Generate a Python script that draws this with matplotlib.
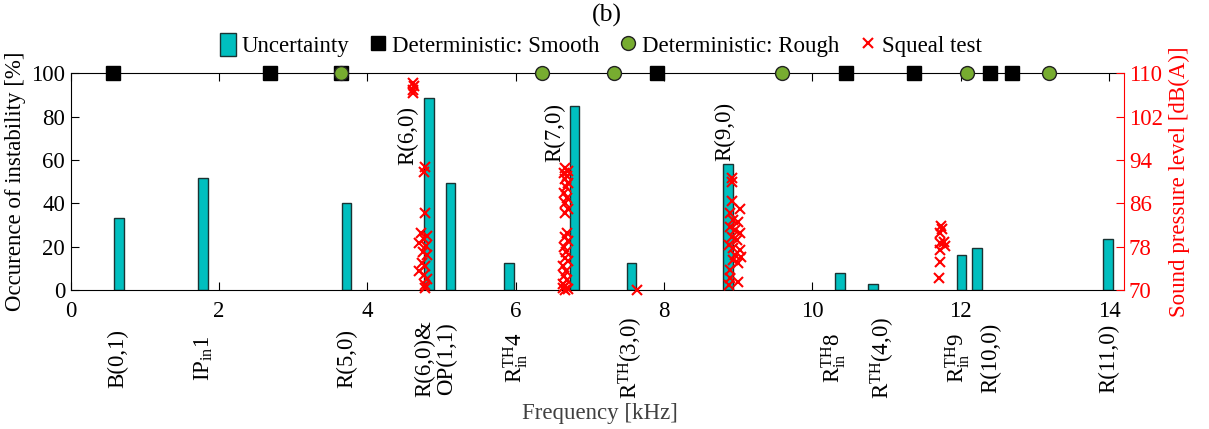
import numpy as np
import matplotlib
matplotlib.use('Agg')
import matplotlib.pyplot as plt

plt.rcParams['font.family'] = ['Liberation Serif', 'DejaVu Serif']
plt.rcParams['mathtext.fontset'] = 'custom'
plt.rcParams['mathtext.rm'] = 'Liberation Serif'
plt.rcParams['mathtext.it'] = 'Liberation Serif:italic'

# Uncertainty analysis: occurrence of instability [%]
bar_freq = [0.65, 1.78, 3.72, 4.83, 5.12, 5.91, 6.79, 7.56, 8.86, 10.37, 10.82, 12.01, 12.22, 13.98]
bar_occ = [33.4, 51.7, 40.0, 88.5, 49.5, 12.3, 84.9, 12.3, 58.3, 7.7, 2.8, 16.2, 19.4, 23.4]

# Deterministic unstable frequencies (drawn on the 100 % line)
smooth_freq = [0.57, 2.69, 3.64, 7.90, 10.45, 11.37, 12.40, 12.69]
rough_freq = [3.64, 6.35, 7.32, 9.59, 12.09, 13.19]

# Squeal test: frequency [kHz] and sound pressure level [dB(A)]
squeal_freq = [4.62, 4.63, 4.61, 4.62,
               4.77, 4.76, 4.78, 4.72, 4.80, 4.76, 4.70, 4.79, 4.75, 4.80, 4.73, 4.78, 4.70, 4.76, 4.80, 4.77, 4.78,
               6.67, 6.70, 6.65, 6.69, 6.66, 6.70, 6.68, 6.65, 6.69, 6.67, 6.70, 6.66,
               6.69, 6.66, 6.70, 6.65, 6.68, 6.66, 6.70, 6.64, 6.68, 6.65, 6.69, 6.63, 6.67, 6.64, 6.70, 6.66,
               7.64,
               8.91, 8.91, 8.92, 9.02, 8.89, 8.93, 9.00, 8.89, 8.96, 9.02, 8.91, 8.98, 8.87, 8.93, 9.02, 8.96,
               9.03, 8.93, 9.00, 8.89, 9.00, 8.89, 8.87,
               11.73, 11.74, 11.72, 11.77, 11.72, 11.78, 11.72, 11.72, 11.71]
squeal_spl = [108.3, 107.7, 107.0, 106.4,
              92.8, 91.8, 84.2, 80.5, 80.0, 79.5, 78.6, 78.2, 77.0, 76.5, 75.0, 74.5, 73.5, 72.8, 72.0, 71.0, 70.3,
              92.5, 92.0, 91.6, 91.0, 90.5, 89.8, 89.0, 88.0, 87.0, 86.0, 85.0, 84.2,
              80.6, 79.8, 79.0, 78.0, 77.0, 76.0, 75.3, 74.5, 73.5, 72.5, 71.8, 71.2, 70.8, 70.4, 70.2, 70.0,
              70.0,
              90.6, 90.0, 86.5, 84.9, 84.2, 82.9, 82.6, 81.7, 81.1, 80.5, 79.8, 79.2, 78.3, 77.7, 77.4, 76.5,
              76.1, 75.5, 74.9, 73.7, 71.5, 72.2, 70.9,
              81.8, 81.2, 80.6, 78.9, 78.6, 78.2, 77.4, 75.2, 72.2]

# Mode labels below the frequency axis
mode_freq = [0.63, 1.80, 3.72, 4.92, 6.00, 7.55, 10.29, 10.95, 11.95, 12.40, 14.00]
mode_names = ['B(0,1)', r'IP$_{\mathrm{in}}$1', 'R(5,0)', 'R(6,0)&\nOP(1,1)',
              r'R$^{\mathrm{TH}}_{\mathrm{in}}$4', r'R$^{\mathrm{TH}}$(3,0)',
              r'R$^{\mathrm{TH}}_{\mathrm{in}}$8', r'R$^{\mathrm{TH}}$(4,0)',
              r'R$^{\mathrm{TH}}_{\mathrm{in}}$9', 'R(10,0)', 'R(11,0)']

# Mode labels inside the plot
inner_freq = [4.55, 6.53, 8.82]
inner_occ = [71.5, 72.7, 73.1]
inner_names = ['R(6,0)', 'R(7,0)', 'R(9,0)']

fs = 16.5
fig = plt.figure(figsize=(12.09, 4.29), dpi=100)
ax = fig.add_axes([0.0585, 0.324, 0.8712, 0.505])

bars = ax.bar(bar_freq, bar_occ, width=0.13, color='#00BFBF', edgecolor='#1a3333',
              linewidth=1.0, label='Uncertainty', zorder=2)
sm, = ax.plot(smooth_freq, [100] * len(smooth_freq), 's', color='black', markersize=10,
              clip_on=False, zorder=5, linestyle='none', label='Deterministic: Smooth')
rg, = ax.plot(rough_freq, [100] * len(rough_freq), 'o', color='#77AC30', markeredgecolor='#222222',
              markersize=10, clip_on=False, zorder=6, linestyle='none', label='Deterministic: Rough')

ax.set_xlim(0, 14.2)
ax.set_ylim(0, 100)
ax.set_xticks(np.arange(0, 15, 2))
ax.set_yticks(np.arange(0, 101, 20))
ax.tick_params(axis='both', direction='in', labelsize=fs, length=6, top=True, pad=8)
ax.tick_params(axis='y', pad=4)
ax.set_ylabel('Occurence of instability [%]', fontsize=fs, labelpad=4)
ax.spines['right'].set_visible(False)

for f, y, s in zip(inner_freq, inner_occ, inner_names):
    ax.text(f, y, s, rotation=90, ha='center', va='center', fontsize=fs)

for f, s in zip(mode_freq, mode_names):
    ax.text(f, -0.315, s, rotation=90, ha='center', va='center', fontsize=fs,
            transform=ax.get_xaxis_transform(), linespacing=1.0)

fig.text(0.496, 1 - 414 / 429, 'Frequency [kHz]', ha='center', va='center',
         fontsize=fs, color='#404040')

ax2 = ax.twinx()
sq, = ax2.plot(squeal_freq, squeal_spl, 'x', color='red', markersize=7.5, markeredgewidth=1.5,
               linestyle='none', clip_on=False, label='Squeal test', zorder=4)
ax2.set_ylim(70, 110)
ax2.set_yticks(np.arange(70, 111, 8))
ax2.tick_params(axis='y', direction='in', colors='red', labelsize=fs, length=6)
ax2.spines['right'].set_color('red')
ax2.spines['left'].set_visible(False)
ax2.spines['top'].set_visible(False)
ax2.spines['bottom'].set_visible(False)
ax2.set_ylabel('Sound pressure level [dB(A)]', fontsize=fs, color='red', labelpad=4)

fig.legend(handles=[bars, sm, rg, sq], loc='center', bbox_to_anchor=(0.497, 0.895), ncol=4,
           frameon=False, fontsize=fs, handlelength=0.7, handleheight=1.2, handletextpad=0.25,
           columnspacing=0.9)
fig.text(0.502, 0.963, '(b)', ha='center', va='center', fontsize=fs + 2)

fig.savefig('out.png', dpi=100)
